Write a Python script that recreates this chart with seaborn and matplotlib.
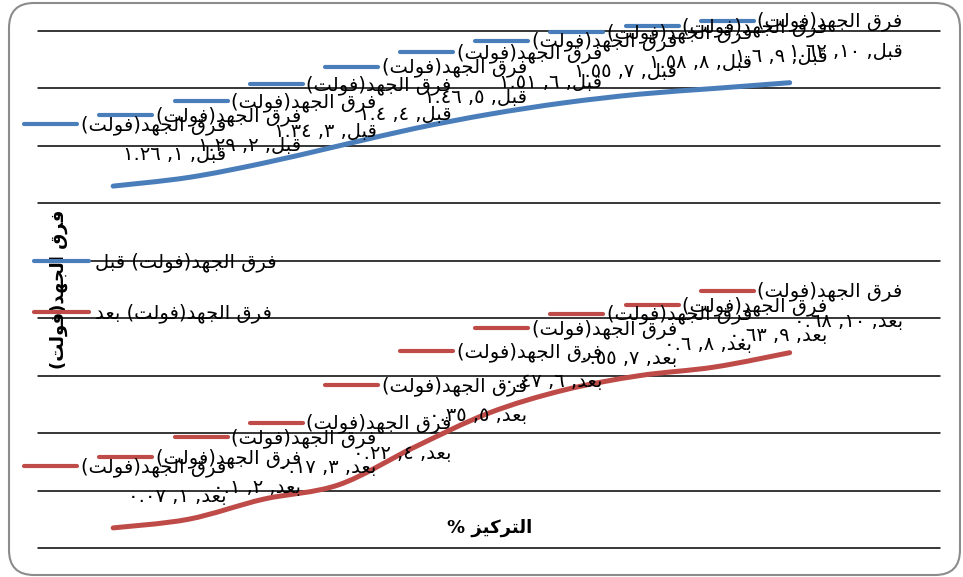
import numpy as np
import pandas as pd
import matplotlib
matplotlib.use("Agg")
import matplotlib.pyplot as plt
import matplotlib.transforms as mtransforms
from matplotlib.lines import Line2D
from matplotlib.patches import FancyBboxPatch, PathPatch
from matplotlib.path import Path
import seaborn as sns

# ---------------- data ----------------
concentration = [1, 2, 3, 4, 5, 6, 7, 8, 9, 10]
voltage_before = [1.26, 1.29, 1.34, 1.40, 1.46, 1.51, 1.55, 1.58, 1.60, 1.62]
voltage_after = [0.07, 0.10, 0.17, 0.22, 0.35, 0.47, 0.55, 0.60, 0.63, 0.68]
series_names = ["فرق الجهد(فولت) قبل", "فرق الجهد(فولت) بعد"]
series_colors = ["#4A7EBB", "#BE4B48"]
x_title = "التركيز %"
y_title = "فرق الجهد(فولت)"
y_ticks = [0.0, 0.2, 0.4, 0.6, 0.8, 1.0, 1.2, 1.4, 1.6, 1.8]
x_limits = (0, 12)

# ------------- minimal Arabic shaping + RTL ordering -------------
AR_FORMS = {  # isolated, final, initial, medial
    "\u0627": ("\uFE8D", "\uFE8E", None, None),
    "\u0628": ("\uFE8F", "\uFE90", "\uFE91", "\uFE92"),
    "\u062A": ("\uFE95", "\uFE96", "\uFE97", "\uFE98"),
    "\u062C": ("\uFE9D", "\uFE9E", "\uFE9F", "\uFEA0"),
    "\u062F": ("\uFEA9", "\uFEAA", None, None),
    "\u0631": ("\uFEAD", "\uFEAE", None, None),
    "\u0632": ("\uFEAF", "\uFEB0", None, None),
    "\u0639": ("\uFEC9", "\uFECA", "\uFECB", "\uFECC"),
    "\u0641": ("\uFED1", "\uFED2", "\uFED3", "\uFED4"),
    "\u0642": ("\uFED5", "\uFED6", "\uFED7", "\uFED8"),
    "\u0643": ("\uFED9", "\uFEDA", "\uFEDB", "\uFEDC"),
    "\u0644": ("\uFEDD", "\uFEDE", "\uFEDF", "\uFEE0"),
    "\u0647": ("\uFEE9", "\uFEEA", "\uFEEB", "\uFEEC"),
    "\u0648": ("\uFEED", "\uFEEE", None, None),
    "\u064A": ("\uFEF1", "\uFEF2", "\uFEF3", "\uFEF4"),
}
AR_DIGITS = "٠١٢٣٤٥٦٧٨٩"
MIRROR = {"(": ")", ")": "(", "[": "]", "]": "["}


def ar_num(v):
    return format(v, "g").translate(str.maketrans("0123456789", AR_DIGITS))


def shape(text):
    out = []
    n = len(text)
    for i, ch in enumerate(text):
        forms = AR_FORMS.get(ch)
        if forms is None:
            out.append(ch)
            continue
        prev = text[i - 1] if i > 0 else ""
        nxt = text[i + 1] if i + 1 < n else ""
        join_prev = prev in AR_FORMS and AR_FORMS[prev][2] is not None
        join_next = nxt in AR_FORMS and forms[2] is not None
        if join_prev and join_next:
            out.append(forms[3])
        elif join_prev:
            out.append(forms[1])
        elif join_next:
            out.append(forms[2])
        else:
            out.append(forms[0])
    return "".join(out)


def visual(text):
    s = shape(text)
    tokens = []
    i = 0
    while i < len(s):
        ch = s[i]
        if ch.isdigit():
            j = i
            while j < len(s) and (s[j].isdigit() or (s[j] in ".٫" and j + 1 < len(s) and s[j + 1].isdigit())):
                j += 1
            tokens.append(s[i:j])
            i = j
        else:
            tokens.append(MIRROR.get(ch, ch))
            i += 1
    return "".join(reversed(tokens))


def smooth_path(xs, ys):
    """Bezier path through the data points (Excel-style smoothed line)."""
    pts = np.column_stack([xs, ys]).astype(float)
    n = len(pts)
    verts, codes = [pts[0]], [Path.MOVETO]
    for i in range(n - 1):
        p0 = pts[i - 1] if i > 0 else pts[i]
        p1, p2 = pts[i], pts[i + 1]
        p3 = pts[i + 2] if i + 2 < n else pts[i + 1]
        verts += [p1 + (p2 - p0) / 6, p2 - (p3 - p1) / 6, p2]
        codes += [Path.CURVE4] * 3
    return Path(verts, codes)


# ---------------- figure ----------------
sns.set_theme(style="white")
plt.rcParams["font.family"] = ["DejaVu Sans"]
plt.rcParams["text.color"] = "black"
plt.rcParams["axes.labelcolor"] = "black"

W, H = 963, 577
fig = plt.figure(figsize=(W / 100, H / 100), dpi=100)
ax = fig.add_axes([38 / W, 1 - 548 / H, 902 / W, 517 / H])

df = pd.DataFrame({
    "x": concentration * 2,
    "y": voltage_before + voltage_after,
    "series": [series_names[0]] * len(concentration) + [series_names[1]] * len(concentration),
})
sns.lineplot(data=df, x="x", y="y", hue="series", palette=dict(zip(series_names, series_colors)),
             linewidth=3.6, ax=ax, legend=False, zorder=3)

# smooth the seaborn lines like the original (Excel "smoothed line")
for ln in list(ax.lines):
    patch = PathPatch(smooth_path(ln.get_xdata(), ln.get_ydata()), facecolor="none",
                      edgecolor=ln.get_color(), linewidth=ln.get_linewidth(),
                      capstyle="round", joinstyle="round", zorder=3)
    ax.add_patch(patch)
    ln.set_visible(False)

ax.set_xlim(*x_limits)
ax.set_ylim(y_ticks[0], y_ticks[-1])
ax.set_yticks(y_ticks)
ax.set_xticks([])
ax.tick_params(left=False, labelleft=False, bottom=False, labelbottom=False)
ax.yaxis.grid(True, color="black", linewidth=1.1)
ax.xaxis.grid(False)
for sp in ax.spines.values():
    sp.set_visible(False)
for gl in ax.get_ygridlines():
    gl.set_clip_on(False)

ax.set_xlabel(visual(x_title), fontsize=13, fontweight="bold")
ax.xaxis.set_label_coords(0.501, 0.056)
ax.set_ylabel(visual(y_title), fontsize=13, fontweight="bold")
ax.yaxis.set_label_coords(0.033, 0.50)

# data labels (series name, x value, y value) with legend key
FS = 14
for name, color, vals in zip(series_names, series_colors, [voltage_before, voltage_after]):
    for xv, yv in zip(concentration, vals):
        full = f"{name}, {ar_num(xv)}, {ar_num(yv)}"
        line1, line2 = full.split(") ", 1)
        line1 += ")"
        ax.annotate(visual(line1), xy=(xv, yv), xytext=(113, 56), textcoords="offset pixels",
                    ha="right", va="baseline", fontsize=FS, color="black",
                    annotation_clip=False, zorder=5)
        ax.annotate(visual(line2), xy=(xv, yv), xytext=(113, 26), textcoords="offset pixels",
                    ha="right", va="baseline", fontsize=FS, color="black",
                    annotation_clip=False, zorder=5)
        tr = fig.dpi_scale_trans + mtransforms.ScaledTranslation(xv, yv, ax.transData)
        ax.add_line(Line2D([-0.89, -0.36], [0.62, 0.62], transform=tr, color=color,
                           linewidth=3.0, solid_capstyle="round", clip_on=False, zorder=4))

# legend
handles = [Line2D([], [], color=c, linewidth=3.0, solid_capstyle="round") for c in series_colors]
leg = ax.legend(handles, [visual(n) for n in series_names], loc="center left",
                bbox_to_anchor=(34 / W, 1 - 288 / H), bbox_transform=fig.transFigure,
                frameon=False, fontsize=FS, handlelength=2.85, handletextpad=0.28,
                labelspacing=1.6, borderpad=0, borderaxespad=0)
for t in leg.get_texts():
    t.set_color("black")

# rounded outer frame
frame = FancyBboxPatch((9 / 100, 2 / 100), 951 / 100, 572 / 100,
                       boxstyle="round,pad=0,rounding_size=0.25",
                       transform=fig.dpi_scale_trans, facecolor="none",
                       edgecolor="#8c8c8c", linewidth=1.5, zorder=0)
fig.add_artist(frame)

fig.savefig("out.png", dpi=100)
